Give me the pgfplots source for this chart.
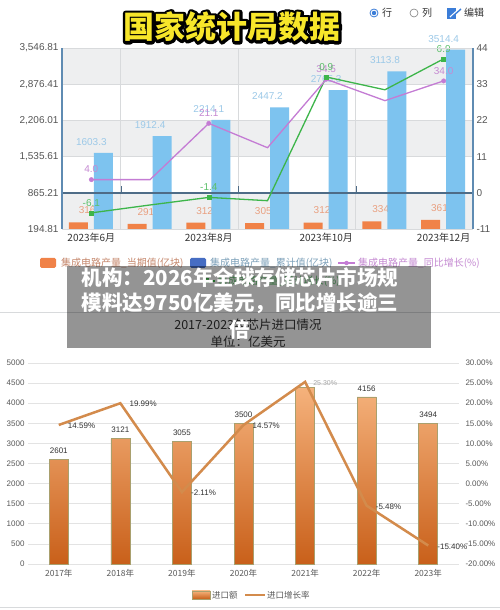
\documentclass[border=0pt]{standalone}
\usepackage{fontspec}
\setmainfont{Liberation Sans}
\newfontfamily\cjk{Noto Sans CJK SC}
\usepackage{pgfplots}
\pgfplotsset{compat=1.18}
\definecolor{obar}{HTML}{F08248}
\definecolor{bbar}{HTML}{7DC3EF}
\definecolor{blab}{HTML}{9CC9E8}
\definecolor{olab}{HTML}{E9A080}
\definecolor{purp}{HTML}{C47CD4}
\definecolor{purplab}{HTML}{C58AD2}
\definecolor{grn}{HTML}{3DB54A}
\definecolor{grnlab}{HTML}{5CC06A}
\definecolor{axblue}{HTML}{5F8BB2}
\definecolor{zline}{HTML}{4E6C87}
\definecolor{band}{HTML}{EEEFF0}
\definecolor{gridc}{HTML}{D8DADC}
\definecolor{tickgray}{HTML}{555555}
\definecolor{darktxt}{HTML}{333333}
\definecolor{btop}{HTML}{F5B27C}
\definecolor{bbot}{HTML}{C9601A}
\definecolor{bedge}{HTML}{A9A06E}
\definecolor{lineor}{HTML}{D38B4C}
\definecolor{ticklab}{HTML}{595959}
\definecolor{gridb}{HTML}{E3E3E3}
\definecolor{radioblue}{HTML}{3B7DD8}
\definecolor{titley}{HTML}{F7E62A}
\begin{document}
\begin{tikzpicture}
\fill[white] (0pt,0pt) rectangle (500pt,610pt);

% ================= TOP CHART =================
\begin{axis}[at={(62pt,381pt)}, anchor=south west, scale only axis,
  width=411pt, height=181pt,
  xmin=-0.5, xmax=6.5, ymin=194.81, ymax=3546.81,
  clip mode=individual,
  axis line style={draw=none}, tick style={draw=none},
  ytick={194.81,865.21,1535.61,2206.01,2876.41,3546.81},
  yticklabels={194.81,865.21,{1,535.61},{2,206.01},{2,876.41},{3,546.81}},
  yticklabel style={font=\fontsize{10}{10}\selectfont, text=tickgray},
  xtick={0,2,4,6},
  xticklabels={2023年6月,2023年8月,2023年10月,2023年12月},
  xticklabel style={font=\cjk\fontsize{10}{10}\selectfont, text=darktxt, yshift=-1pt},
]
\fill[band] (axis cs:-0.5,194.81) rectangle (axis cs:6.5,865.21);
\fill[band] (axis cs:-0.5,1535.61) rectangle (axis cs:6.5,2206.01);
\fill[band] (axis cs:-0.5,2876.41) rectangle (axis cs:6.5,3546.81);
\foreach \yy in {1535.61,2206.01,2876.41}{
  \edef\tmp{\noexpand\draw[gridc, line width=0.6pt] (axis cs:-0.5,\yy) -- (axis cs:6.5,\yy);}\tmp}
\foreach \xx in {0.5,2.5,4.5}{
  \edef\tmp{\noexpand\draw[gridc, line width=0.6pt] (axis cs:\xx,194.81) -- (axis cs:\xx,3546.81);}\tmp}
\addplot[ybar, bar width=19pt, bar shift=-13pt, fill=obar, draw=none,
  nodes near coords, point meta=explicit symbolic,
  every node near coord/.append style={font=\fontsize{10}{10}\selectfont, text=olab, yshift=5pt}]
  coordinates {(0,316.5)[316.5] (1,291.5)[291.5] (2,312.3)[312.3] (3,305.3)[305.3]
               (4,312.8)[312.8] (5,334.6)[334.6] (6,361.5)[361.5]};
\addplot[ybar, bar width=19pt, bar shift=12pt, fill=bbar, draw=none,
  nodes near coords, point meta=explicit symbolic,
  every node near coord/.append style={font=\fontsize{10}{10}\selectfont, text=blab, yshift=4pt}]
  coordinates {(0,1603.3)[1603.3] (1,1912.4)[1912.4] (2,2214.1)[2214.1] (3,2447.2)[2447.2]
               (4,2765.3)[2765.3] (5,3113.8)[3113.8] (6,3514.4)[3514.4]};
\draw[zline, line width=2pt] (axis cs:-0.5,865.21) -- (axis cs:6.5,865.21);
\end{axis}

\begin{axis}[at={(62pt,381pt)}, anchor=south west, scale only axis,
  width=411pt, height=181pt,
  xmin=-0.5, xmax=6.5, ymin=-11, ymax=44,
  axis x line=none, axis y line*=right,
  axis line style={draw=none}, tick style={draw=none},
  ytick={-11,0,11,22,33,44},
  yticklabels={-11,0,11,22,33,44},
  yticklabel style={font=\fontsize{10}{10}\selectfont, text=tickgray},
  clip=false,
]
\addplot[grn, line width=1.3pt, mark=none]
  coordinates {(0,-6.1) (1,-3.7) (2,-1.4) (3,-2.4) (4,35.2) (5,31.3) (6,40.7)};
\addplot[purp, line width=1.3pt, mark=none]
  coordinates {(0,4.0) (1,4.0) (2,21.1) (3,13.7) (4,34.5) (5,28.0) (6,34.0)};
\addplot[purp, only marks, mark=*, mark size=2.2pt,
  nodes near coords, point meta=explicit symbolic,
  every node near coord/.append style={font=\fontsize{10}{10}\selectfont, text=purplab, yshift=3pt}]
  coordinates {(0,4.0)[4.0] (2,21.1)[21.1] (4,34.5)[34.5] (6,34.0)[34.0]};
\addplot[grn, only marks, mark=square*, mark size=2pt,
  nodes near coords, point meta=explicit symbolic,
  every node near coord/.append style={font=\fontsize{10}{10}\selectfont, text=grnlab, yshift=3pt}]
  coordinates {(0,-6.1)[-6.1] (2,-1.4)[-1.4] (4,35.2)[0.9] (6,40.7)[6.9]};
\end{axis}

% ================= BOTTOM CHART =================
\begin{axis}[at={(28pt,46pt)}, anchor=south west, scale only axis,
  width=431pt, height=201pt,
  xmin=-0.5, xmax=6.5, ymin=0, ymax=5000,
  ytick={0,500,...,5000},
  ymajorgrids, major grid style={gridb, line width=0.7pt},
  axis line style={draw=none}, tick style={draw=none},
  /pgf/number format/assume math mode=true,
  /pgf/number format/1000 sep={},
  yticklabel style={font=\fontsize{8}{8}\selectfont, text=ticklab},
  xtick={0,1,2,3,4,5,6},
  xticklabels={2017年,2018年,2019年,2020年,2021年,2022年,2023年},
  xticklabel style={font=\cjk\fontsize{8.5}{8.5}\selectfont, text=ticklab, yshift=-2pt},
  clip mode=individual,
]
\addplot[ybar, bar width=19pt, bar shift=0pt, draw=bedge, line width=0.6pt,
  top color=btop, bottom color=bbot]
  coordinates {(0,2601) (1,3121) (2,3055) (3,3500) (4,4400) (5,4156) (6,3494)};
\addplot[draw=none, mark=none, nodes near coords, point meta=explicit symbolic,
  every node near coord/.append style={font=\fontsize{8}{8}\selectfont, text=darktxt, yshift=2pt}]
  coordinates {(0,2601)[2601] (1,3121)[3121] (2,3055)[3055] (3,3500)[3500] (5,4156)[4156] (6,3494)[3494]};
\end{axis}

\begin{axis}[at={(28pt,46pt)}, anchor=south west, scale only axis,
  width=431pt, height=201pt,
  xmin=-0.5, xmax=6.5, ymin=-20, ymax=30,
  axis x line=none, axis y line*=right,
  axis line style={draw=none}, tick style={draw=none},
  ytick={-20,-15,-10,-5,0,5,10,15,20,25,30},
  yticklabels={-20.00\%,-15.00\%,-10.00\%,-5.00\%,0.00\%,5.00\%,10.00\%,15.00\%,20.00\%,25.00\%,30.00\%},
  yticklabel style={font=\fontsize{8}{8}\selectfont, text=ticklab, xshift=3pt},
  clip=false,
]
\addplot[lineor, line width=2.5pt, mark=none]
  coordinates {(0,14.59) (1,19.99) (2,-2.11) (3,14.57) (4,25.3) (5,-5.48) (6,-15.40)};
\addplot[draw=none, mark=none, nodes near coords, point meta=explicit symbolic,
  every node near coord/.append style={font=\fontsize{8}{8}\selectfont, text=darktxt, anchor=west, inner sep=1pt, xshift=8pt, yshift=-1pt}]
  coordinates {(0,14.59)[14.59\%] (1,19.99)[19.99\%] (2,-2.11)[-2.11\%] (3,14.57)[14.57\%] (5,-5.48)[-5.48\%] (6,-15.40)[-15.40\%]};
\addplot[draw=none, mark=none, nodes near coords, point meta=explicit symbolic,
  every node near coord/.append style={font=\fontsize{7}{7}\selectfont, text=gray!70, anchor=west, inner sep=1pt, xshift=7pt, yshift=-1pt}]
  coordinates {(4,25.3)[25.30\%]};
\end{axis}

\begin{scope}[x=1pt,y=1pt]
% frame of top chart
\draw[gridc, line width=0.7pt] (62,562) -- (473,562);
\draw[gridc, line width=0.7pt] (62,381) -- (473,381);
\draw[axblue, line width=1.3pt] (62,381) -- (62,562);
\draw[axblue, line width=1.3pt] (473,381) -- (473,562);
\foreach \xx in {121,238,356} \draw[zline, line width=0.9pt] (\xx,418) -- (\xx,424);

% title with outline (stroked glyphs under filled glyphs)
\node[font={\cjk\bfseries\fontsize{31}{31}\selectfont}, text=black] at (232,583)
  {\special{pdf:literal direct 1 Tr 5.6 w 1 j 0 0 0 RG}国家统计局数据\special{pdf:literal direct 0 Tr 1 w}};
\node[font={\cjk\bfseries\fontsize{31}{31}\selectfont}, text=titley] at (232,583) {国家统计局数据};

% top-right controls
\draw[radioblue, line width=0.8pt] (374,597) circle (4);
\fill[radioblue] (374,597) circle (2.2);
\node[anchor=west, inner sep=0pt, font=\cjk\fontsize{10}{10}\selectfont, text=darktxt] at (382,597) {行};
\draw[gray, line width=0.6pt] (414,597) circle (4);
\node[anchor=west, inner sep=0pt, font=\cjk\fontsize{10}{10}\selectfont, text=darktxt] at (422,597) {列};
\fill[radioblue] (447,591) rectangle (456,602);
\draw[white, line width=1.2pt] (450,593) -- (459,601);
\draw[radioblue, line width=1.4pt] (452,593) -- (461,601);
\node[anchor=west, inner sep=0pt, font=\cjk\fontsize{10}{10}\selectfont, text=darktxt] at (464,597) {编辑};

% top legend
\fill[obar, rounded corners=1.5pt] (40,342) rectangle (56,352);
\node[anchor=west, inner sep=0pt, font=\cjk\fontsize{10}{10}\selectfont, text=olab!85!black] at (61,347) {集成电路产量\_当期值(亿块)};
\fill[bbar!70!blue!80!black, rounded corners=1.5pt] (190,342) rectangle (206,352);
\node[anchor=west, inner sep=0pt, font=\cjk\fontsize{10}{10}\selectfont, text=blab!80!black] at (210,347) {集成电路产量\_累计值(亿块)};
\draw[purp, line width=1.2pt] (338,347) -- (355,347);
\fill[purp] (346.5,347) circle (2.2);
\node[anchor=west, inner sep=0pt, font=\cjk\fontsize{10}{10}\selectfont, text=purplab] at (358,347) {集成电路产量\_同比增长(\%)};
\draw[grn, line width=1.2pt] (198,329) -- (215,329);
\fill[grn] (204,326.5) rectangle (209,331.5);
\node[anchor=west, inner sep=0pt, font=\cjk\fontsize{10}{10}\selectfont, text=grnlab] at (218,329) {集成电路产量\_累计增长(\%)};

% separator
\draw[gridc, line width=0.8pt] (0,298) -- (500,298);
\draw[gridc, line width=0.8pt] (0,3) -- (500,3);

% bottom title
\node[font=\cjk\fontsize{12.5}{12.5}\selectfont, text=darktxt] at (248,285) {2017-2023年芯片进口情况};
\node[font=\cjk\fontsize{12.5}{12.5}\selectfont, text=darktxt] at (248,268) {单位：亿美元};

% bottom legend
\shade[top color=btop, bottom color=bbot, draw=bedge] (192,11) rectangle (210,19);
\node[anchor=west, inner sep=0pt, font=\cjk\fontsize{8.5}{8.5}\selectfont, text=ticklab] at (212,15) {进口额};
\draw[lineor, line width=2.5pt] (245,15) -- (265,15);
\node[anchor=west, inner sep=0pt, font=\cjk\fontsize{8.5}{8.5}\selectfont, text=ticklab] at (267,15) {进口增长率};

% overlay headline
\fill[black, opacity=0.42] (67,262) rectangle (431,344);
\node[font={\cjk\bfseries\fontsize{20.5}{20.5}\selectfont}, text=white] at (240,332) {机构：2026年全球存储芯片市场规};
\node[font={\cjk\bfseries\fontsize{20.5}{20.5}\selectfont}, text=white] at (240,307) {模料达9750亿美元，同比增长逾三};
\node[font={\cjk\bfseries\fontsize{20.5}{20.5}\selectfont}, text=white] at (240,280) {倍};

\pgfresetboundingbox
\path[use as bounding box] (0,0) rectangle (500,610);
\end{scope}
\end{tikzpicture}
\end{document}
